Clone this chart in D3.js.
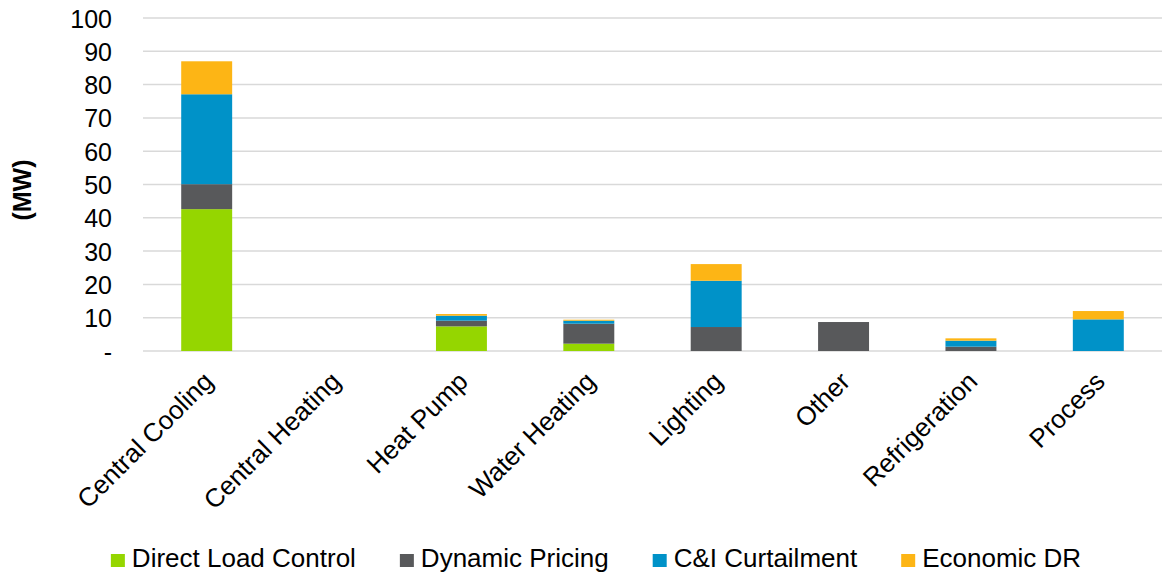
<!DOCTYPE html>
<html><head><meta charset="utf-8">
<script src="https://cdn.jsdelivr.net/npm/d3@7/dist/d3.min.js"></script>
<style>body{margin:0;background:#fff;} svg{display:block;font-family:"Liberation Sans",Arial,sans-serif;}</style>
</head><body>
<svg id="chart" width="1164" height="579"></svg>
<script>
const categories = ["Central Cooling","Central Heating","Heat Pump","Water Heating","Lighting","Other","Refrigeration","Process"];
const seriesNames = ["Direct Load Control","Dynamic Pricing","C&I Curtailment","Economic DR"];
const directLoadControl = [42.6, 0, 7.4, 2.2, 0, 0, 0, 0];
const dynamicPricing    = [7.5, 0, 1.7, 6.0, 7.2, 8.7, 1.3, 0];
const ciCurtailment     = [27.0, 0, 1.5, 0.9, 13.9, 0, 1.8, 9.5];
const economicDR        = [9.9, 0, 0.5, 0.3, 5.0, 0, 0.7, 2.5];
const yTicks = [0,10,20,30,40,50,60,70,80,90,100];
const yTickLabels = ["-","10","20","30","40","50","60","70","80","90","100"];
const colors = ["#95D600","#58595B","#0092C8","#FDB515"];

const svg = d3.select("#chart");
const m = {left:143, right:1162, top:18, bottom:351};
const seriesVals = [directLoadControl, dynamicPricing, ciCurtailment, economicDR];
const rows = categories.map((c,i)=>{const r={cat:c}; seriesNames.forEach((s,j)=>r[s]=seriesVals[j][i]); return r;});
const stacked = d3.stack().keys(seriesNames)(rows);

const x = d3.scaleBand().domain(categories).range([m.left,m.right]).paddingInner(0.6).paddingOuter(0.3);
const y = d3.scaleLinear().domain([0,100]).range([m.bottom,m.top]);

// gridlines
svg.append("g").selectAll("line").data(yTicks).join("line")
  .attr("x1",m.left).attr("x2",m.right)
  .attr("y1",d=>y(d)).attr("y2",d=>y(d))
  .attr("stroke","#d9d9d9").attr("stroke-width",1.5);

// y axis labels
const yAxis = d3.axisLeft(y).tickValues(yTicks).tickFormat((d,i)=>yTickLabels[i]).tickSize(0).tickPadding(0);
const yg = svg.append("g").attr("transform",`translate(112,0)`).call(yAxis);
yg.select(".domain").remove();
yg.selectAll("text").attr("font-size",25).attr("fill","#000").attr("font-family","Liberation Sans, Arial, sans-serif").attr("dy","0.36em");

// bars
svg.append("g").selectAll("g").data(stacked).join("g").attr("fill",(d,i)=>colors[i])
  .selectAll("rect").data(d=>d).join("rect")
  .attr("x",d=>x(d.data.cat))
  .attr("width",x.bandwidth())
  .attr("y",d=>y(d[1]))
  .attr("height",d=>Math.max(0,y(d[0])-y(d[1])));

// x labels
const xAxis = d3.axisBottom(x).tickSize(0).tickPadding(0);
const xg = svg.append("g").attr("transform",`translate(0,${m.bottom})`).call(xAxis);
xg.select(".domain").remove();
xg.selectAll("text")
  .attr("font-size",26).attr("fill","#000").attr("font-family","Liberation Sans, Arial, sans-serif")
  .attr("text-anchor","end").attr("dy","0.71em").attr("y",0)
  .attr("transform","translate(-5,19) rotate(-45)");

// y title
svg.append("text").attr("transform","translate(31,190) rotate(-90)")
  .attr("text-anchor","middle").attr("font-size",25).attr("font-weight","bold").text("(MW)");

// legend
const lg = svg.append("g");
const items = lg.selectAll("g").data(seriesNames).join("g");
items.append("rect").attr("width",14).attr("height",13).attr("y",-13).attr("fill",(d,i)=>colors[i]);
items.append("text").attr("x",21).attr("font-size",26).text(d=>d);
let xpos=0;
items.each(function(){
  const w = 21 + d3.select(this).select("text").node().getComputedTextLength();
  d3.select(this).attr("transform",`translate(${xpos},0)`);
  xpos += w + 44;
});
const total = xpos-44;
lg.attr("transform",`translate(${596-total/2},567)`);
</script>
</body></html>
